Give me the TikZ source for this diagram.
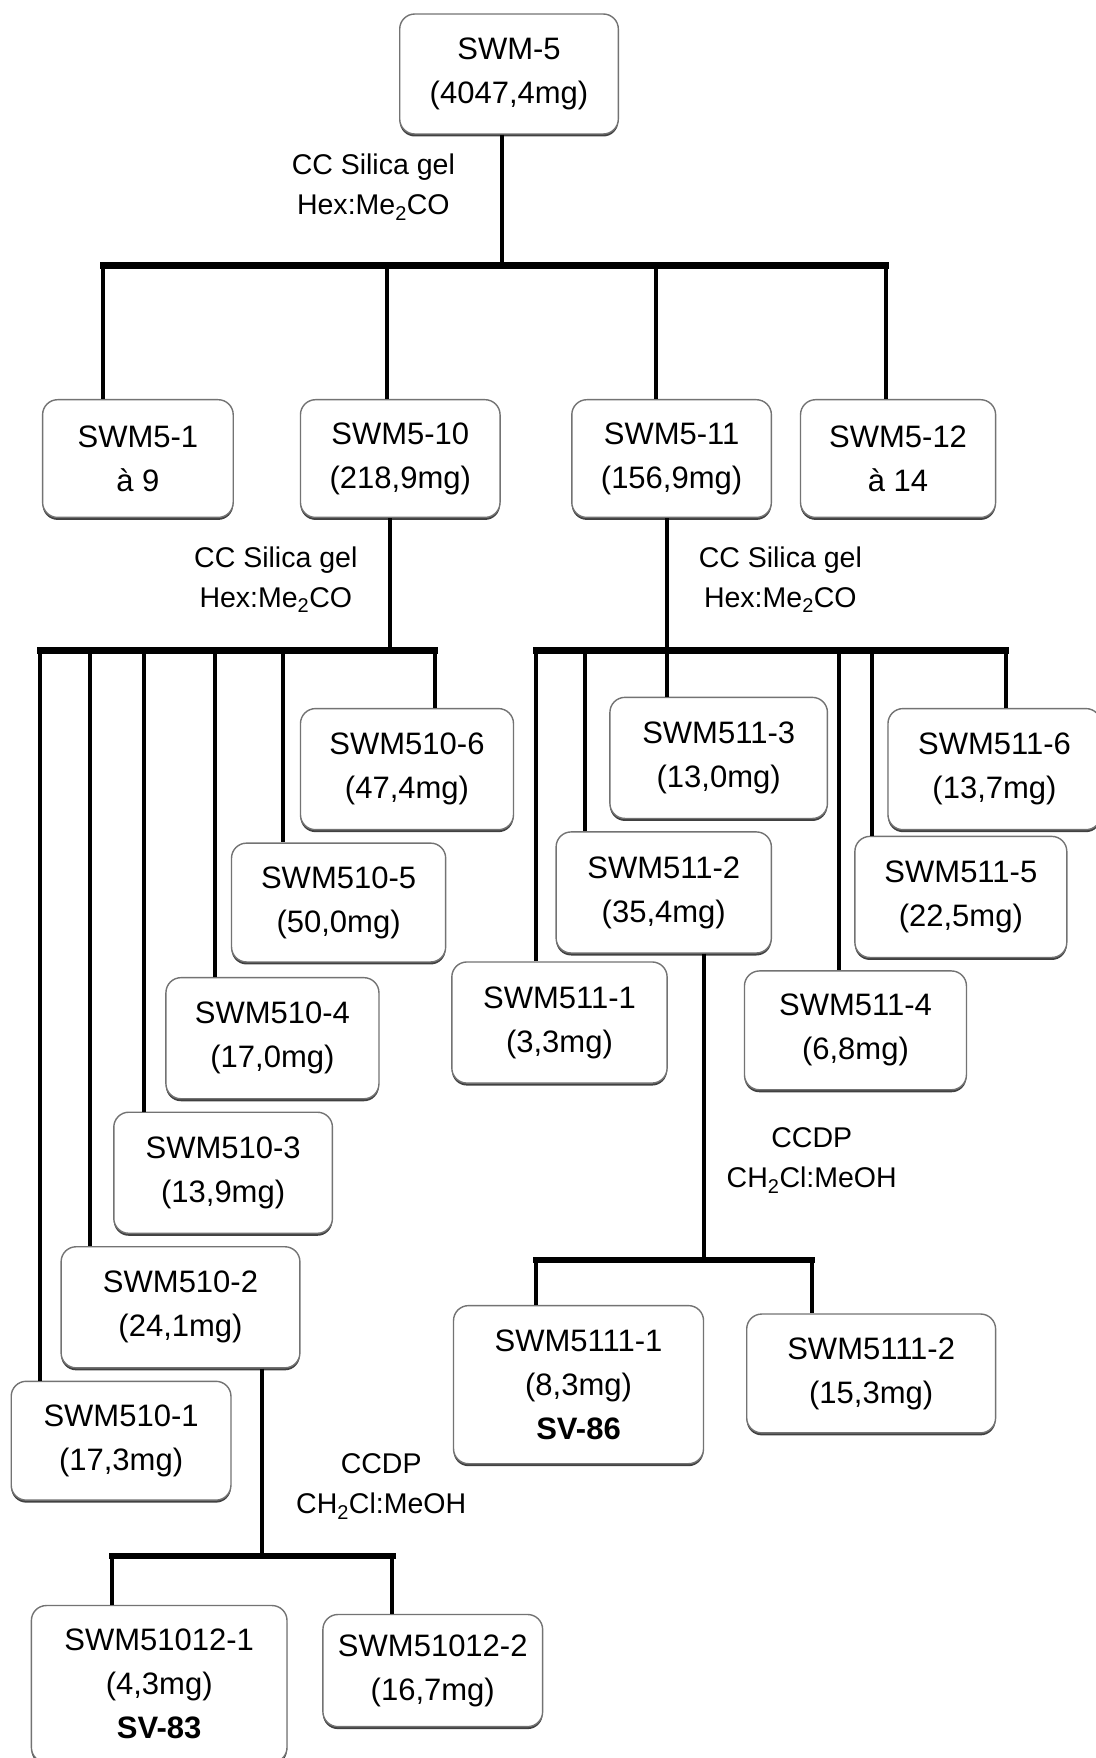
\documentclass[tikz,border=0pt]{standalone}
\usepackage{fontspec}
\setmainfont{Liberation Sans}
\usetikzlibrary{shadows}
\tikzset{frac/.style={draw=black!55,line width=1.4pt,fill=white,rounded corners=15pt,
    align=center,inner sep=0pt,font=\fontsize{31}{44}\selectfont,
    drop shadow={shadow xshift=0pt,shadow yshift=-2.5pt,fill=black!75,opacity=1}},
  boxsize/.style 2 args={minimum width=#1*1.1208pt,minimum height=#2*1.1208pt},
  link/.style={draw=black,line width=4pt},
  bar/.style={draw=black,line width=6.5pt,line cap=rect},
  note/.style={align=center,inner sep=0pt,font=\fontsize{28.5}{40}\selectfont}}

\begin{document}
\begin{tikzpicture}[x=1.1208pt,y=-1.1208pt]
  \useasboundingbox (0,0) rectangle (977,1568);
  % top level
  \node[frac,boxsize={195}{107}] (swm5) at (454,66) {SWM-5\\(4047,4mg)};
  \node[frac,boxsize={170}{105}] (n51) at (123,409) {SWM5-1\\à 9};
  \node[frac,boxsize={178}{105}] (n510) at (357,409) {SWM5-10\\(218,9mg)};
  \node[frac,boxsize={178}{105}] (n511) at (599,409) {SWM5-11\\(156,9mg)};
  \node[frac,boxsize={174}{105}] (n512) at (801,409) {SWM5-12\\à 14};
  % fractions of SWM5-10
  \node[frac,boxsize={190}{108}] (a6) at (363,686) {SWM510-6\\(47,4mg)};
  \node[frac,boxsize={191}{106}] (a5) at (302,805) {SWM510-5\\(50,0mg)};
  \node[frac,boxsize={190}{108}] (a4) at (243,926) {SWM510-4\\(17,0mg)};
  \node[frac,boxsize={195}{108}] (a3) at (199,1046) {SWM510-3\\(13,9mg)};
  \node[frac,boxsize={213}{108}] (a2) at (161,1166) {SWM510-2\\(24,1mg)};
  \node[frac,boxsize={196}{106}] (a1) at (108,1285) {SWM510-1\\(17,3mg)};
  \node[frac,boxsize={228}{140}] (c1) at (142,1502) {SWM51012-1\\(4,3mg)\\\textbf{SV-83}};
  \node[frac,boxsize={196}{100}] (c2) at (386,1490) {SWM51012-2\\(16,7mg)};
  % fractions of SWM5-11
  \node[frac,boxsize={194}{108}] (b3) at (641,676) {SWM511-3\\(13,0mg)};
  \node[frac,boxsize={190}{108}] (b6) at (887,686) {SWM511-6\\(13,7mg)};
  \node[frac,boxsize={192}{108}] (b2) at (592,796) {SWM511-2\\(35,4mg)};
  \node[frac,boxsize={189}{108}] (b5) at (857,800) {SWM511-5\\(22,5mg)};
  \node[frac,boxsize={192}{108}] (b1) at (499,912) {SWM511-1\\(3,3mg)};
  \node[frac,boxsize={198}{106}] (b4) at (763,919) {SWM511-4\\(6,8mg)};
  \node[frac,boxsize={223}{141}] (d1) at (516,1235) {SWM5111-1\\(8,3mg)\\\textbf{SV-86}};
  \node[frac,boxsize={222}{106}] (d2) at (777,1225) {SWM5111-2\\(15,3mg)};

  % methods
  \node[note] (m1) at (333,167) {CC Silica gel\\Hex:Me\textsubscript{2}CO};
  \node[note] (m2) at (246,517) {CC Silica gel\\Hex:Me\textsubscript{2}CO};
  \node[note] (m3) at (696,517) {CC Silica gel\\Hex:Me\textsubscript{2}CO};
  \node[note] (m4) at (724,1035) {CCDP\\CH\textsubscript{2}Cl:MeOH};
  \node[note] (m5) at (340,1326) {CCDP\\CH\textsubscript{2}Cl:MeOH};

  % SWM-5 -> first column
  \coordinate (t0) at (448,237);
  \draw[link] (t0 |- swm5.south) -- (t0);
  \foreach \j/\n in {92/n51,345/n510,585/n511,790/n512}
    \draw[link] (\j,237) -- (\j,237 |- \n.north);
  \draw[bar] (92,237) -- (790,237);

  % SWM5-10
  \coordinate (t1) at (348,580);
  \draw[link] (t1 |- n510.south) -- (t1);
  \foreach \j/\n in {36/a1,80/a2,128/a3,192/a4,252/a5,388/a6}
    \draw[link] (\j,580) -- (\j,580 |- \n.north);
  \draw[bar] (36,580) -- (388,580);

  % SWM5-11
  \coordinate (t2) at (595,580);
  \draw[link] (t2 |- n511.south) -- (t2);
  \foreach \j/\n in {478/b1,522/b2,595/b3,748/b4,778/b5,897/b6}
    \draw[link] (\j,580) -- (\j,580 |- \n.north);
  \draw[bar] (478,580) -- (897,580);

  % SWM510-2
  \coordinate (t3) at (234,1388);
  \draw[link] (t3 |- a2.south) -- (t3);
  \foreach \j/\n in {100/c1,350/c2}
    \draw[link] (\j,1388) -- (\j,1388 |- \n.north);
  \draw[bar] (100,1388) -- (350,1388);

  % SWM511-2
  \coordinate (t4) at (628,1124);
  \draw[link] (t4 |- b2.south) -- (t4);
  \foreach \j/\n in {478/d1,724/d2}
    \draw[link] (\j,1124) -- (\j,1124 |- \n.north);
  \draw[bar] (478,1124) -- (724,1124);
\end{tikzpicture}
\end{document}
